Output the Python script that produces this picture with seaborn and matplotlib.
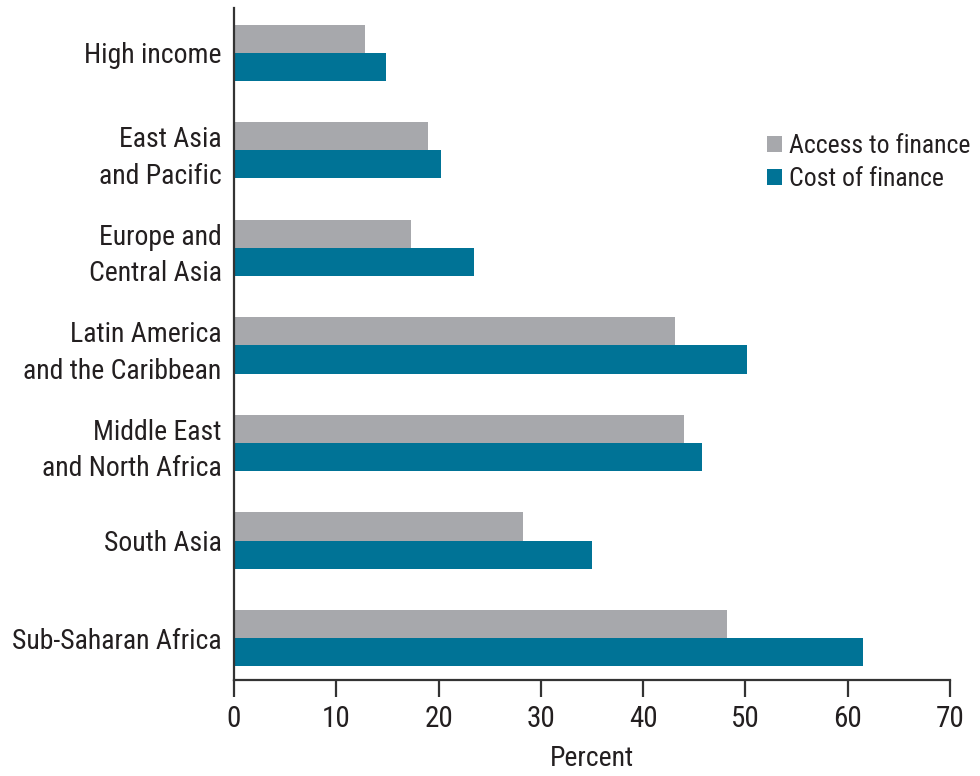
import matplotlib
matplotlib.use("Agg")
import matplotlib.pyplot as plt
import seaborn as sns
import pandas as pd

regions = [
    "High income",
    "East Asia\nand Pacific",
    "Europe and\nCentral Asia",
    "Latin America\nand the Caribbean",
    "Middle East\nand North Africa",
    "South Asia",
    "Sub-Saharan Africa",
]
access_to_finance = [12.8, 19.0, 17.3, 43.1, 44.0, 28.3, 48.2]
cost_of_finance = [14.9, 20.2, 23.5, 50.2, 45.8, 35.0, 61.5]
series_names = ["Access to finance", "Cost of finance"]
x_ticks = [0, 10, 20, 30, 40, 50, 60, 70]

df = pd.DataFrame({
    "region": regions * 2,
    "value": access_to_finance + cost_of_finance,
    "series": [series_names[0]] * len(regions) + [series_names[1]] * len(regions),
})

sns.set_theme(style="white")
plt.rcParams["font.family"] = ["Roboto Condensed", "DejaVu Sans"]
text_color = "#231f20"

fig = plt.figure(figsize=(9.8, 7.76), dpi=100)
ax = fig.add_axes([234 / 980, 1 - 680 / 776, (950 - 234) / 980, (680 - 8) / 776])

sns.barplot(
    data=df, x="value", y="region", hue="series", orient="h",
    palette=["#a7a8ac", "#007396"], width=0.575, gap=0,
    saturation=1, errorbar=None, ax=ax, linewidth=0,
)

ax.set_xlim(0, 70)
ax.set_ylim(6.43, -0.46)
ax.set_xticks(x_ticks)
ax.set_xticklabels([str(t) for t in x_ticks], fontsize=21, color=text_color)
ax.tick_params(axis="x", direction="out", length=12, width=1.6,
               color="#333333", pad=6, bottom=True)
ax.tick_params(axis="y", length=0, pad=9, labelsize=20, labelcolor=text_color)
for lbl in ax.get_yticklabels():
    lbl.set_horizontalalignment("right")
    lbl.set_linespacing(1.45)

ax.set_xlabel("Percent", fontsize=20, color=text_color, labelpad=9)
ax.set_ylabel("")

for side in ["top", "right"]:
    ax.spines[side].set_visible(False)
for side in ["left", "bottom"]:
    ax.spines[side].set_color("#333333")
    ax.spines[side].set_linewidth(1.6)

leg = ax.legend(
    loc="upper left", bbox_to_anchor=(533 / 716, 1 - (134 - 8) / 672),
    frameon=False, fontsize=18.5, handlelength=0.6, handleheight=0.6,
    handletextpad=0.25, labelspacing=0.35, borderaxespad=0, borderpad=0,
)
for t in leg.get_texts():
    t.set_color(text_color)

fig.savefig("out.png", dpi=100)
